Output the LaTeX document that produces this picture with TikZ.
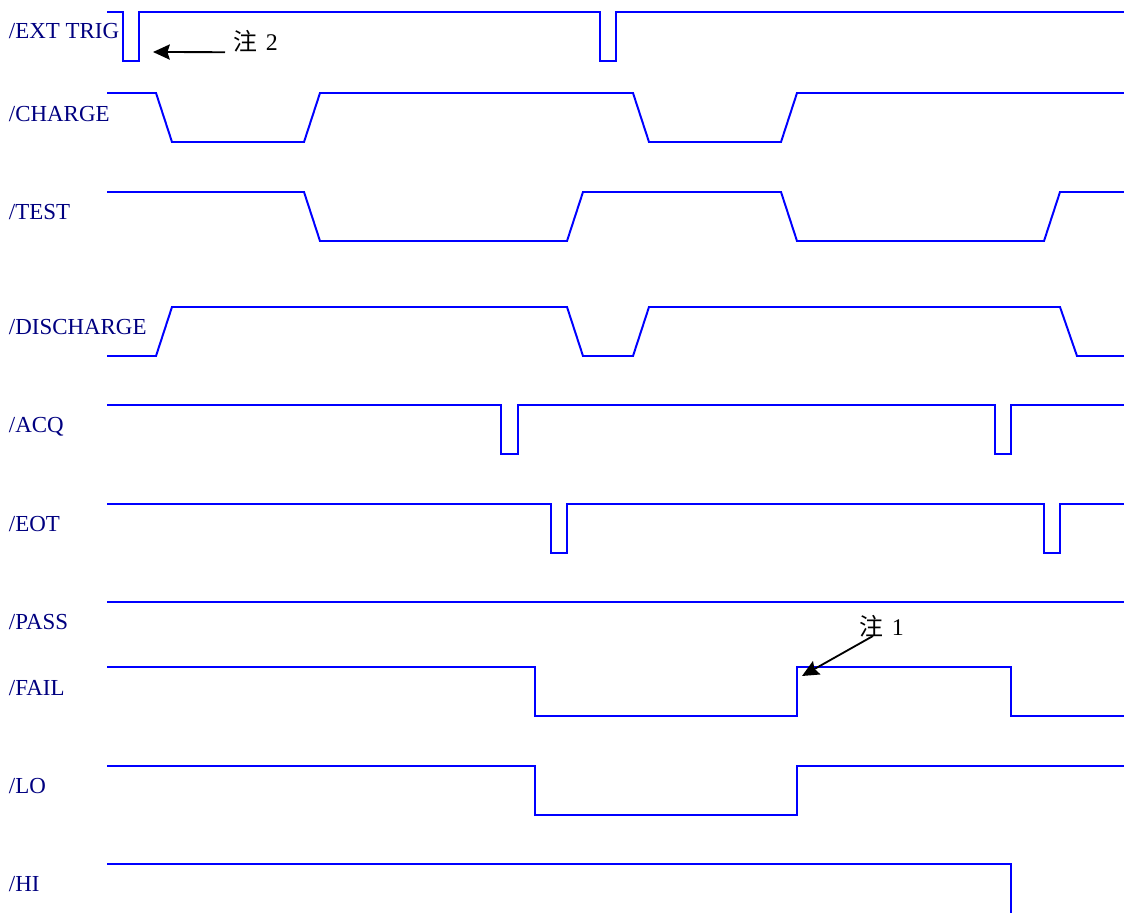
\documentclass[tikz,border=0pt]{standalone}
\usepackage{fontspec}
\setmainfont{Liberation Serif}
\newfontfamily\cjkfont{Noto Sans CJK SC}
\usetikzlibrary{arrows.meta}
\definecolor{waveblue}{RGB}{0,0,255}
\definecolor{signavy}{RGB}{0,0,128}

\begin{document}
\begin{tikzpicture}[x=0.025cm,y=-0.025cm,line width=1.4pt,>=Stealth,
  wave/.style={waveblue,line width=1.4pt,line join=miter},
  signame/.style={signavy,anchor=base west,inner sep=0pt,font=\fontsize{16.3}{19}\selectfont},
  notetext/.style={black,anchor=base west,inner sep=0pt,font=\fontsize{17}{20}\selectfont},
  pointer/.style={->,black,line width=1.3pt,>={Stealth[length=4.2mm,width=3.8mm,inset=0.6mm]}}]
\useasboundingbox (0,0) rectangle (1124,913);
% signal names
\node[signame] (exttrig) at (8,39) {/EXT TRIG};
\node[signame] (charge) at (8,121) {/CHARGE};
\node[signame] (test) at (8,219) {/TEST};
\node[signame] (discharge) at (8,334) {/DISCHARGE};
\node[signame] (acq) at (8,432.5) {/ACQ};
\node[signame] (eot) at (8,531) {/EOT};
\node[signame] (pass) at (8,629) {/PASS};
\node[signame] (fail) at (8,695) {/FAIL};
\node[signame] (lo) at (8,793.5) {/LO};
\node[signame] (hi) at (8,891.5) {/HI};
% /EXT TRIG
\draw[wave] (107,12) -- (123,12) -- (123,61) -- (139,61) -- (139,12)
  -- (600,12) -- (600,61) -- (616,61) -- (616,12) -- (1124,12);
% /CHARGE
\draw[wave] (107,93) -- (156,93) -- (172,142) -- (304,142) -- (320,93)
  -- (633,93) -- (649,142) -- (781,142) -- (797,93) -- (1124,93);
% /TEST
\draw[wave] (107,192) -- (304,192) -- (320,241) -- (567,241) -- (583,192)
  -- (781,192) -- (797,241) -- (1044,241) -- (1060,192) -- (1124,192);
% /DISCHARGE
\draw[wave] (107,356) -- (156,356) -- (172,307) -- (567,307) -- (583,356)
  -- (633,356) -- (649,307) -- (1060,307) -- (1077,356) -- (1124,356);
% /ACQ
\draw[wave] (107,405) -- (501,405) -- (501,454) -- (518,454) -- (518,405)
  -- (995,405) -- (995,454) -- (1011,454) -- (1011,405) -- (1124,405);
% /EOT
\draw[wave] (107,504) -- (551,504) -- (551,553) -- (567,553) -- (567,504)
  -- (1044,504) -- (1044,553) -- (1060,553) -- (1060,504) -- (1124,504);
% /PASS
\draw[wave] (107,602) -- (1124,602);
% /FAIL
\draw[wave] (107,667) -- (535,667) -- (535,716) -- (797,716) -- (797,667)
  -- (1011,667) -- (1011,716) -- (1124,716);
% /LO
\draw[wave] (107,766) -- (535,766) -- (535,815) -- (797,815) -- (797,766) -- (1124,766);
% /HI
\draw[wave] (107,864) -- (1011,864) -- (1011,913);
% notes
\node[notetext] (note2) at (233,51) {{\cjkfont 注}\,\,2};
\node[notetext] (note1) at (859,635) {{\cjkfont 注}\,\,1};
\coordinate (trigtip) at (153,52);
\coordinate (failtip) at (802,676);
\draw[pointer] ([xshift=-0.2cm,yshift=-0.03cm]note2.base west) -- (trigtip);
\draw[pointer] ([shift={(14,1)}]note1.base west) -- (failtip);
\end{tikzpicture}
\end{document}
